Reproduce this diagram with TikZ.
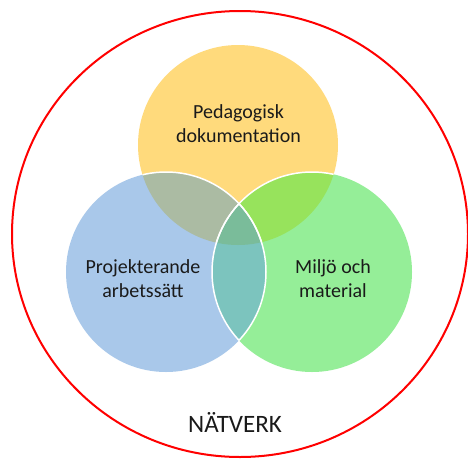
\documentclass[tikz,border=0pt]{standalone}
\usepackage{fontspec}
\setmainfont{Carlito}
\definecolor{cyel}{HTML}{FFDA7C}
\definecolor{cblu}{HTML}{A9C8EA}
\definecolor{cgrn}{HTML}{95EE98}
\definecolor{cyb}{HTML}{ABBBA3}
\definecolor{cyg}{HTML}{97E35C}
\definecolor{cbg}{HTML}{7CC4BE}
\definecolor{call}{HTML}{7ABC9A}
\definecolor{ctext}{HTML}{1A1A1A}
\begin{document}
\begin{tikzpicture}[x=1pt,y=-1pt,
  lbl/.style={font=\fontsize{20}{24}\selectfont, text=ctext, align=center, inner sep=0pt},
  ring/.style={draw=white, line width=1.5pt}]
\useasboundingbox (0,0) rectangle (468,458);
\fill[white] (0,0) rectangle (468,458);
% outer network ellipse
\draw[red, line width=2pt] (240,234) ellipse [x radius=228pt, y radius=223pt];
% coordinates of circle centres
\coordinate (Y) at (238,145);
\coordinate (B) at (166,272);
\coordinate (G) at (312,272);
% base fills
\fill[cyel] (Y) circle [radius=100pt];
\fill[cblu] (B) circle [radius=100pt];
\fill[cgrn] (G) circle [radius=100pt];
% pairwise overlaps
\begin{scope}
  \clip (Y) circle [radius=100pt];
  \fill[cyb] (B) circle [radius=100pt];
  \fill[cyg] (G) circle [radius=100pt];
\end{scope}
\begin{scope}
  \clip (B) circle [radius=100pt];
  \fill[cbg] (G) circle [radius=100pt];
  \clip (G) circle [radius=100pt];
  \fill[call] (Y) circle [radius=100pt];
\end{scope}
% white outlines of the lower circles
\begin{scope}
  \clip (Y) circle [radius=100pt];
  \draw[ring] (B) circle [radius=100pt];
  \draw[ring] (G) circle [radius=100pt];
\end{scope}
\begin{scope}
  \clip (B) circle [radius=100pt];
  \draw[ring] (G) circle [radius=100pt];
\end{scope}
\begin{scope}
  \clip (G) circle [radius=100pt];
  \draw[ring] (B) circle [radius=100pt];
\end{scope}
% labels
\node[lbl, anchor=base] (ped) at (238.5,142) {Pedagogisk\\dokumentation};
\node[lbl, anchor=base] (proj) at (143,297) {Projekterande\\arbetssätt};
\node[lbl, anchor=base] (milj) at (333,297) {Miljö och\\material};
\node[font=\fontsize{25}{30}\selectfont, text=ctext, inner sep=0pt, anchor=base] (nat) at (235,432) {NÄTVERK};
\end{tikzpicture}
\end{document}
